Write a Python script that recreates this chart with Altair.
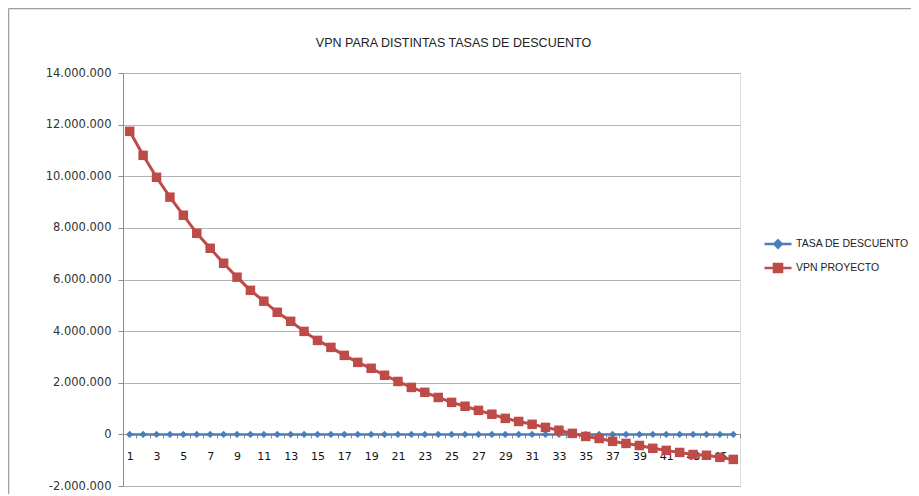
import altair as alt
import pandas as pd

periodos = list(range(1, 47))
tasa = [0.01, 0.02, 0.03, 0.04, 0.05, 0.06, 0.07, 0.08, 0.09, 0.10,
        0.11, 0.12, 0.13, 0.14, 0.15, 0.16, 0.17, 0.18, 0.19, 0.20,
        0.21, 0.22, 0.23, 0.24, 0.25, 0.26, 0.27, 0.28, 0.29, 0.30,
        0.31, 0.32, 0.33, 0.34, 0.35, 0.36, 0.37, 0.38, 0.39, 0.40,
        0.41, 0.42, 0.43, 0.44, 0.45, 0.46]
vpn = [11740000, 10810000, 9960000, 9190000, 8490000, 7790000, 7210000, 6630000, 6090000, 5580000,
       5160000, 4730000, 4380000, 3990000, 3640000, 3370000, 3060000, 2790000, 2560000, 2290000,
       2050000, 1820000, 1630000, 1430000, 1240000, 1090000, 930000, 780000, 620000, 500000,
       390000, 270000, 160000, 40000, -80000, -160000, -270000, -350000, -430000, -540000,
       -620000, -700000, -780000, -810000, -890000, -970000]
y_ticks = [-2000000, 0, 2000000, 4000000, 6000000, 8000000, 10000000, 12000000, 14000000]
serie_tasa = "TASA DE DESCUENTO"
serie_vpn = "VPN PROYECTO"
titulo = "VPN PARA DISTINTAS TASAS DE DESCUENTO"

df_tasa = pd.DataFrame({"periodo": periodos, "valor": tasa, "serie": serie_tasa})
df_vpn = pd.DataFrame({"periodo": periodos, "valor": vpn, "serie": serie_vpn})

W, H = 617, 413
PL, PT, PR, PB = 115, 65, 171, 8

x_enc = alt.X("periodo:O",
              scale=alt.Scale(type="band", paddingInner=0, paddingOuter=0),
              axis=alt.Axis(title=None, labelAngle=0, offset=-52,
                            labelExpr="datum.value % 2 == 1 ? datum.label : ''",
                            labelFont="DejaVu Sans", labelFontSize=11, labelColor="#111",
                            labelPadding=12, tickBand="extent", tickSize=4,
                            tickColor="#8c8c8c", domainColor="#8c8c8c", grid=False,
                            labelOverlap=False))
y_enc = alt.Y("valor:Q",
              scale=alt.Scale(domain=[-2000000, 14000000], nice=False, zero=False),
              axis=alt.Axis(title=None, values=y_ticks,
                            labelExpr="replace(replace(format(datum.value, ','), regexp(',', 'g'), '.'), '\u2212', '-')",
                            labelFont="DejaVu Sans", labelFontSize=11.5, labelColor="#333",
                            labelPadding=7, tickSize=5, tickColor="#8c8c8c",
                            domainColor="#8c8c8c", gridColor="#b3b3b3", gridWidth=1))

azul_linea, azul_punto = "#4a7ebb", "#4f81bd"
rojo_linea, rojo_punto = "#be4b48", "#c0504d"

legend_common = dict(title=None, orient="none", labelFont="Liberation Sans", labelFontSize=10.5,
                     labelColor="#222", symbolSize=729, labelOffset=3, symbolStrokeWidth=2.5)

capa_tasa = alt.Chart(df_tasa).mark_line(
    strokeWidth=2.5,
    point=alt.OverlayMarkDef(shape="diamond", size=55, filled=True, color=azul_punto)
).encode(
    x=x_enc, y=y_enc,
    color=alt.Color("serie:N", scale=alt.Scale(domain=[serie_tasa], range=[azul_linea]),
                    legend=alt.Legend(**legend_common, legendX=640, legendY=156,
                                      symbolType="M-1,0L1,0M0,-0.27L0.27,0L0,0.27L-0.27,0Z",
                                      symbolFillColor=azul_punto, symbolStrokeColor=azul_linea))
)

capa_vpn = alt.Chart(df_vpn).mark_line(
    strokeWidth=3,
    point=alt.OverlayMarkDef(shape="square", size=90, filled=True, color=rojo_punto)
).encode(
    x=x_enc, y=y_enc,
    color=alt.Color("serie:N", scale=alt.Scale(domain=[serie_vpn], range=[rojo_linea]),
                    legend=alt.Legend(**legend_common, legendX=640, legendY=180,
                                      symbolType="M-1,0L1,0M-0.3,-0.3L0.3,-0.3L0.3,0.3L-0.3,0.3Z",
                                      symbolFillColor=rojo_punto, symbolStrokeColor=rojo_linea))
)

marco = pd.DataFrame({"titulo": [titulo]})
borde_izq = alt.Chart(marco).mark_rule(color="#a0a0a0", strokeWidth=1.5).encode(
    x=alt.value(-PL + 0.5), y=alt.value(-PT + 0.5), y2=alt.value(H + PB + 5))
borde_sup = alt.Chart(marco).mark_rule(color="#a0a0a0", strokeWidth=1.5).encode(
    x=alt.value(-PL + 0.5), x2=alt.value(W + PR + 5), y=alt.value(-PT + 0.5))
texto_titulo = alt.Chart(marco).mark_text(
    font="Liberation Sans", fontSize=12.5, color="#222", align="center", baseline="middle"
).encode(x=alt.value(W / 2 + 22), y=alt.value(-30), text="titulo:N")

chart = alt.layer(capa_tasa, capa_vpn, borde_izq, borde_sup, texto_titulo).resolve_scale(
    color="independent").resolve_legend(color="independent").properties(
    width=W, height=H,
    autosize=alt.AutoSizeParams(type="none"),
    padding={"left": PL, "top": PT, "right": PR, "bottom": PB},
).configure_view(stroke=None).configure(background="white")

chart.save("out.html", embed_options={"renderer": "svg", "actions": False})
